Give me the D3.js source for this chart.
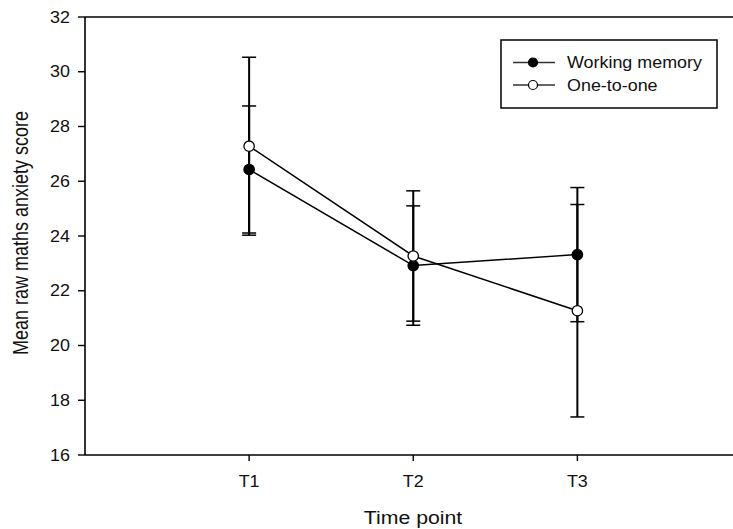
<!DOCTYPE html>
<html>
<head>
<meta charset="utf-8">
<script src="https://cdn.jsdelivr.net/npm/d3@7"></script>
<style>
  body { margin: 0; background: #fff; }
  svg { display: block; font-family: "Liberation Sans", Arial, sans-serif; }
</style>
</head>
<body>
<svg id="chart" width="733" height="529"></svg>
<script>
// data
const timePoints = ['T1', 'T2', 'T3'];
const wmMean = [26.43, 22.92, 23.32];
const wmErr = [2.32, 2.18, 2.45];
const otoMean = [27.28, 23.27, 21.27];
const otoErr = [3.25, 2.38, 3.88];
const yTicks = [16, 18, 20, 22, 24, 26, 28, 30, 32];
const seriesNames = ['Working memory', 'One-to-one'];

const svg = d3.select('#chart');
const width = 733, height = 529;
const stretch = 1.12; // text in the reference is a bit wide

const x = d3.scaleLinear().domain([0, 4]).range([85, 741.5]);
const y = d3.scaleLinear().domain([16, 32]).range([455, 17]);

const series = [
  { name: seriesNames[0], mean: wmMean, err: wmErr, fill: '#000' },
  { name: seriesNames[1], mean: otoMean, err: otoErr, fill: '#fff' }
];

// helper for horizontally stretched text
function wideText(sel, tx, ty) {
  return sel.attr('transform', `translate(${tx},${ty}) scale(${stretch},1)`);
}

// axes frame: left, bottom, top
svg.append('line').attr('x1', x(0)).attr('x2', width).attr('y1', y(16)).attr('y2', y(16))
  .attr('stroke', '#000').attr('stroke-width', 1.6);
svg.append('line').attr('x1', x(0)).attr('x2', width).attr('y1', y(32)).attr('y2', y(32))
  .attr('stroke', '#000').attr('stroke-width', 1.6);
svg.append('line').attr('x1', x(0)).attr('x2', x(0)).attr('y1', y(32)).attr('y2', y(16))
  .attr('stroke', '#000').attr('stroke-width', 1.6);

// y ticks
const yt = svg.append('g').selectAll('g').data(yTicks).join('g');
yt.append('line')
  .attr('x1', x(0) - 7).attr('x2', x(0))
  .attr('y1', d => y(d)).attr('y2', d => y(d))
  .attr('stroke', '#000').attr('stroke-width', 1.4);
yt.append('text')
  .each(function(d) { wideText(d3.select(this), 70, y(d) + 5.5); })
  .attr('text-anchor', 'end')
  .attr('font-size', 16)
  .attr('fill', '#111')
  .text(d => d);

// x ticks
const xt = svg.append('g').selectAll('g').data(timePoints).join('g');
xt.append('line')
  .attr('x1', (d, i) => x(i + 1)).attr('x2', (d, i) => x(i + 1))
  .attr('y1', y(16)).attr('y2', y(16) + 6)
  .attr('stroke', '#000').attr('stroke-width', 1.4);
xt.append('text')
  .each(function(d, i) { wideText(d3.select(this), x(i + 1), 487); })
  .attr('text-anchor', 'middle')
  .attr('font-size', 16)
  .attr('fill', '#111')
  .text(d => d);

// axis titles
wideText(svg.append('text'), 413, 524)
  .attr('text-anchor', 'middle')
  .attr('font-size', 19)
  .attr('fill', '#111')
  .text('Time point');

svg.append('text')
  .attr('transform', `translate(28,${(y(16) + y(32)) / 2 - 3}) rotate(-90) scale(1,1.2)`)
  .attr('text-anchor', 'middle')
  .attr('font-size', 18)
  .attr('fill', '#111')
  .text('Mean raw maths anxiety score');

// connecting lines
const line = d3.line()
  .x((d, i) => x(i + 1))
  .y(d => y(d));

svg.append('g').selectAll('path').data(series).join('path')
  .attr('d', s => line(s.mean))
  .attr('fill', 'none')
  .attr('stroke', '#000')
  .attr('stroke-width', 1.5);

// error bars
series.forEach(s => {
  const g = svg.append('g');
  s.mean.forEach((m, i) => {
    const cx = x(i + 1);
    g.append('line')
      .attr('x1', cx).attr('x2', cx)
      .attr('y1', y(m - s.err[i])).attr('y2', y(m + s.err[i]))
      .attr('stroke', '#000').attr('stroke-width', 2);
    [m - s.err[i], m + s.err[i]].forEach(v => {
      g.append('line')
        .attr('x1', cx - 7).attr('x2', cx + 7)
        .attr('y1', y(v)).attr('y2', y(v))
        .attr('stroke', '#000').attr('stroke-width', 1.5);
    });
  });
});

// markers
series.forEach(s => {
  svg.append('g').selectAll('circle').data(s.mean).join('circle')
    .attr('cx', (d, i) => x(i + 1))
    .attr('cy', d => y(d))
    .attr('r', 5.2)
    .attr('fill', s.fill)
    .attr('stroke', '#000')
    .attr('stroke-width', 1.3);
});

// legend
const lg = svg.append('g');
lg.append('rect')
  .attr('x', 501).attr('y', 40)
  .attr('width', 216).attr('height', 68)
  .attr('fill', '#fff')
  .attr('stroke', '#000')
  .attr('stroke-width', 1.5);

const items = lg.selectAll('g.item').data(series).join('g')
  .attr('class', 'item')
  .attr('transform', (d, i) => `translate(0,${62.5 + i * 22.5})`);
items.append('line')
  .attr('x1', 513).attr('x2', 555)
  .attr('stroke', '#333').attr('stroke-width', 1.3);
items.append('circle')
  .attr('cx', 533).attr('r', 4.5)
  .attr('fill', d => d.fill)
  .attr('stroke', '#000').attr('stroke-width', 1.2);
items.append('text')
  .each(function() { wideText(d3.select(this), 567, 5.8); })
  .attr('font-size', 16)
  .attr('fill', '#111')
  .text(d => d.name);
</script>
</body>
</html>
